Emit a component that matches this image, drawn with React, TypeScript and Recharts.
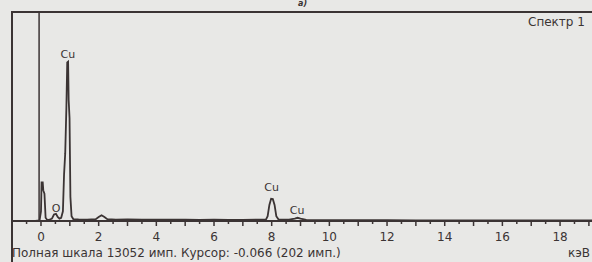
import React from 'react'
import { Line, LineChart, ReferenceDot, ReferenceLine, XAxis, YAxis } from 'recharts'

// energy (keV) and counts
const energies = [
  -0.2, -0.05, 0.0, 0.02, 0.06, 0.08, 0.12, 0.16, 0.22, 0.3, 0.38, 0.45, 0.52, 0.58,
  0.64, 0.7, 0.76, 0.8, 0.84, 0.88, 0.91, 0.94, 0.96, 0.99, 1.02, 1.06, 1.12, 1.3,
  1.6, 1.9, 2.0, 2.1, 2.2, 2.3, 2.6, 3.0, 3.5, 4.0, 4.5, 5.0, 5.5, 6.0, 6.5, 7.0,
  7.5, 7.8, 7.86, 7.92, 7.98, 8.04, 8.1, 8.16, 8.24, 8.6, 8.8, 8.9, 9.0, 9.2, 10,
  11, 12, 13, 14, 15, 16, 17, 18, 19, 20,
]
const counts = [
  0, 30, 600, 2400, 2400, 1900, 1700, 200, 60, 80, 150, 400, 450, 250,
  150, 200, 600, 2900, 4200, 7000, 9850, 9900, 7500, 6400, 1500, 300, 120, 100,
  90, 110, 250, 360, 250, 110, 90, 100, 80, 90, 80, 80, 70, 80, 70, 70,
  80, 90, 300, 1000, 1380, 1360, 1000, 300, 90, 80, 150, 200, 150, 70, 60,
  50, 50, 45, 40, 40, 35, 35, 30, 30, 30,
]
const tickLabels = [0, 2, 4, 6, 8, 10, 12, 14, 16, 18]
const peakLabels = [
  { e: 0.93, c: 10380, text: 'Cu' },
  { e: 0.52, c: 810, text: 'O' },
  { e: 8.0, c: 2110, text: 'Cu' },
  { e: 8.88, c: 680, text: 'Cu' },
]
const fullScale = 13052

const ink = '#3b3434'
const font = '"DejaVu Sans", Arial, sans-serif'

const data = energies.map((e, i) => ({ e, c: counts[i] }))
const ticks: number[] = []
for (let t = -1; t <= 20; t += 0.5) ticks.push(t)

const Tick = (props: any) => {
  const { x, y, payload } = props
  const v = payload.value
  const len = Number.isInteger(v) ? 5 : 3
  return (
    <g>
      <line x1={x} x2={x} y1={y} y2={y + len} stroke={ink} strokeWidth={1.5} />
      {tickLabels.includes(v) && (
        <text x={x} y={y + 20} textAnchor="middle" fontSize={12} fill={ink} fontFamily={font}>
          {v}
        </text>
      )}
    </g>
  )
}

export default function App() {
  return (
    <div
      style={{
        position: 'absolute', left: 0, top: 0, width: 592, height: 262,
        background: '#e8e8e6', overflow: 'hidden', fontFamily: font, color: ink,
      }}
    >
      <div
        style={{
          position: 'absolute', left: 11, top: 11, width: 640, height: 260,
          borderTop: `2px solid ${ink}`, borderLeft: `2px solid ${ink}`,
        }}
      />
      <div style={{ position: 'absolute', left: 298, top: 0, fontSize: 8, lineHeight: 1, fontStyle: 'italic', fontWeight: 'bold' }}>а)</div>
      <div style={{ position: 'absolute', left: 528, top: 15, fontSize: 12, whiteSpace: 'nowrap' }}>Спектр 1</div>
      <div style={{ position: 'absolute', left: 12, top: 246, fontSize: 12, whiteSpace: 'nowrap' }}>
        Полная шкала 13052 имп. Курсор: -0.066 (202 имп.)
      </div>
      <div style={{ position: 'absolute', left: 568, top: 246, fontSize: 12, whiteSpace: 'nowrap' }}>кэВ</div>
      <div style={{ position: 'absolute', left: 11, top: 11 }}>
        <LineChart width={620} height={240} data={data} margin={{ top: 0, right: 0, bottom: 0, left: 0 }}>
          <XAxis
            dataKey="e"
            type="number"
            domain={[-1.04, 20.46]}
            ticks={ticks}
            interval={0}
            tick={<Tick />}
            tickLine={false}
            tickSize={0}
            tickMargin={0}
            height={30}
            axisLine={{ stroke: ink, strokeWidth: 2 }}
          />
          <YAxis type="number" domain={[0, fullScale]} hide />
          <ReferenceLine x={-0.066} stroke={ink} strokeWidth={1.5} />
          <Line
            dataKey="c"
            type="linear"
            stroke={ink}
            strokeWidth={1.8}
            dot={false}
            isAnimationActive={false}
          />
          {peakLabels.map((p, i) => (
            <ReferenceDot
              key={i}
              x={p.e}
              y={p.c}
              r={1}
              fill="none"
              stroke="none"
              label={{ value: p.text, position: 'center', fontSize: 11, fill: ink, fontFamily: font }}
            />
          ))}
        </LineChart>
      </div>
    </div>
  )
}
